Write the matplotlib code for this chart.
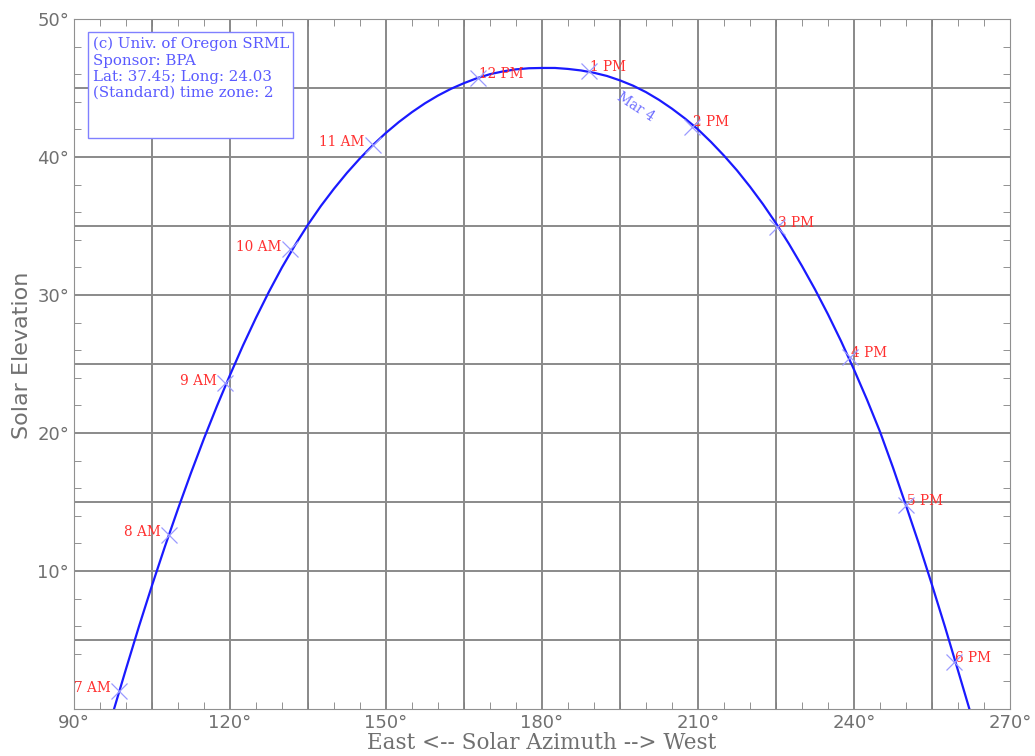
import matplotlib
matplotlib.use("Agg")
import matplotlib.pyplot as plt
from matplotlib.ticker import MultipleLocator

# sun path (azimuth deg, elevation deg)
path_az = [97.7, 100, 102.5, 105, 107.5, 110, 112.5, 115, 117.5, 120, 122.5, 125, 127.5,
           130, 132.5, 135, 137.5, 140, 142.5, 145, 147.5, 150, 152.5, 155, 157.5, 160,
           162.5, 165, 167.5, 170, 172.5, 175, 177.5, 180, 182.5, 185, 187.5, 190, 192.5,
           195, 197.5, 200, 202.5, 205, 207.5, 210, 212.5, 215, 217.5, 220, 222.5, 225,
           227.5, 230, 232.5, 235, 237.5, 240, 242.5, 245, 247.5, 250, 252.5, 255, 257.5,
           260, 262.2]
path_el = [0.0, 2.9, 5.99, 8.95, 11.79, 14.5, 17.11, 19.6, 21.96, 24.2, 26.34, 28.35, 30.24,
           32.0, 33.61, 35.1, 36.46, 37.7, 38.85, 39.9, 40.87, 41.75, 42.54, 43.25, 43.89, 44.45,
           44.94, 45.35, 45.71, 46.0, 46.2, 46.35, 46.43, 46.45, 46.45, 46.38, 46.27, 46.1, 45.87,
           45.55, 45.17, 44.7, 44.14, 43.5, 42.79, 42.0, 41.09, 40.1, 39.03, 37.85, 36.58, 35.2,
           33.7, 32.1, 30.41, 28.6, 26.67, 24.6, 22.42, 20.1, 17.5, 14.75, 11.95, 9.0, 5.96,
           2.8, 0.0]

hour_labels = ["7 AM", "8 AM", "9 AM", "10 AM", "11 AM", "12 PM",
               "1 PM", "2 PM", "3 PM", "4 PM", "5 PM", "6 PM"]
hour_az = [98.7, 108.3, 119.0, 131.5, 147.5, 167.7, 189.0, 208.8, 225.2, 239.2, 250.0, 259.2]
hour_el = [1.3, 12.6, 23.6, 33.3, 40.9, 45.7, 46.2, 42.2, 34.9, 25.5, 14.8, 3.4]

info_lines = ["(c) Univ. of Oregon SRML", "Sponsor: BPA",
              "Lat: 37.45; Long: 24.03", "(Standard) time zone: 2"]

serif = "DejaVu Serif"
gray = "#707070"

fig = plt.figure(figsize=(10.35, 7.56), dpi=100)
ax = fig.add_axes([0.0715, 0.0622, 0.9043, 0.9127])

ax.set_xlim(90, 270)
ax.set_ylim(0, 50)

# grid every 15 deg / 5 deg
for x in range(105, 270, 15):
    ax.axvline(x, color="#808080", lw=1.3, zorder=1)
for y in range(5, 50, 5):
    ax.axhline(y, color="#8a8a8a", lw=1.4, zorder=1)

ax.plot(path_az, path_el, color="#1a1aff", lw=1.6, zorder=3)
ax.plot(hour_az, hour_el, "x", color="#9a9aff", ms=11, mew=0.9, zorder=4)

for lab, a, e in zip(hour_labels, hour_az, hour_el):
    if "AM" in lab:
        ax.annotate(lab, (a, e), xytext=(-6, 2), textcoords="offset points",
                    ha="right", va="center", color="#ff3030", fontsize=9.8, family=serif)
    else:
        ax.annotate(lab, (a, e), xytext=(1, 3), textcoords="offset points",
                    ha="left", va="center", color="#ff3030", fontsize=9.8, family=serif)

ax.text(198.1, 43.6, "Mar 4", rotation=-33, ha="center", va="center",
        color="#7070ff", fontsize=9.8, family=serif, zorder=5)

# info box (white, covers the grid)
ax.add_patch(plt.Rectangle((92.7, 41.4), 39.4, 7.66, fc="white", ec="#8080ff", lw=1.0, zorder=6))
ax.text(93.7, 48.7, "\n".join(info_lines), ha="left", va="top", color="#5a5aff",
        fontsize=10.8, family=serif, linespacing=1.2, zorder=7)

ax.set_xticks([90, 120, 150, 180, 210, 240, 270])
ax.set_xticklabels([f"{v}°" for v in [90, 120, 150, 180, 210, 240, 270]])
ax.xaxis.set_minor_locator(MultipleLocator(5))
ax.set_yticks([10, 20, 30, 40, 50])
ax.set_yticklabels([f"{v}°" for v in [10, 20, 30, 40, 50]])
ax.yaxis.set_minor_locator(MultipleLocator(2))
ax.tick_params(which="both", direction="in", top=True, right=True, colors="#808080",
               labelcolor=gray, labelsize=13)
ax.tick_params(which="major", length=0)
ax.tick_params(which="minor", length=5)
for s in ax.spines.values():
    s.set_color("#909090")

ax.set_xlabel("East <-- Solar Azimuth --> West", color=gray, fontsize=15.5, family=serif, labelpad=0)
ax.set_ylabel("Solar Elevation", color=gray, fontsize=16, family="DejaVu Sans")
ax.yaxis.set_label_coords(-0.045, 0.512)

fig.savefig("out.png", dpi=100)
